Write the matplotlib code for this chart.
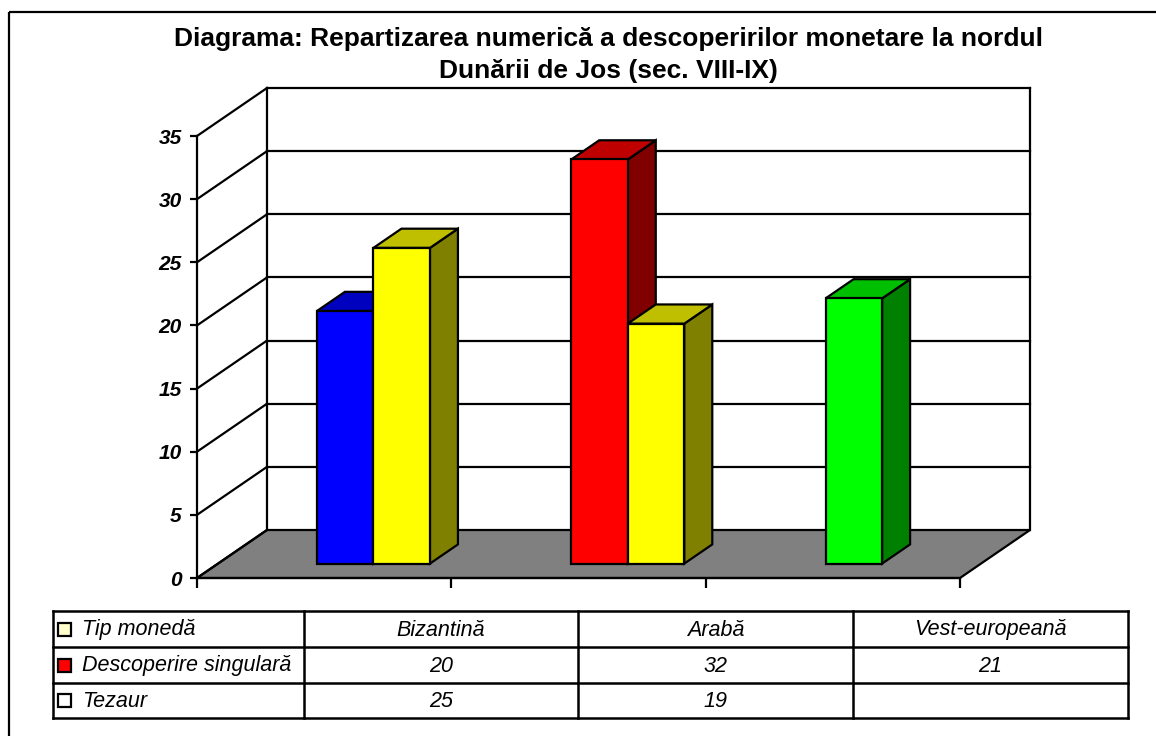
import matplotlib
matplotlib.use("Agg")
import matplotlib.pyplot as plt
from matplotlib.patches import Polygon, Rectangle

plt.rcParams["font.family"] = ["Liberation Sans", "DejaVu Sans"]

# data
categories = ["Bizantină", "Arabă", "Vest-europeană"]
series_names = ["Tip monedă", "Descoperire singulară", "Tezaur"]
singular = [20, 32, 21]
tezaur = [25, 19, None]
singular_colors = ["#0000FF", "#FF0000", "#00FF00"]
tezaur_color = "#FFFF00"
key_colors = ["#FFFFCC", "#FF0000", "#FFFFFF"]
yticks = [0, 5, 10, 15, 20, 25, 30, 35]

title = ("Diagrama: Repartizarea numerică a descoperirilor monetare la nordul\n"
         "Dunării de Jos (sec. VIII-IX)")

W, H = 1156, 736
fig = plt.figure(figsize=(W / 100, H / 100), dpi=100)

# overlay in pixel units for frame, title and table
pix = fig.add_axes([0, 0, 1, 1])
pix.set_xlim(0, W)
pix.set_ylim(H, 0)
pix.axis("off")

pix.add_patch(Rectangle((9, 12), W, H, fill=False, lw=1.6, ec="black"))
pix.text(608, 55, title, ha="center", va="center", fontsize=19,
         fontweight="bold", linespacing=1.38)

# front plane of the 3d plot
x0, x1, y0, y1 = 197, 960, 578, 136
ax = fig.add_axes([x0 / W, 1 - y0 / H, (x1 - x0) / W, (y0 - y1) / H])
ax.set_xlim(0, 3)
ax.set_ylim(0, 35)
ax.patch.set_visible(False)
for s in ["top", "right"]:
    ax.spines[s].set_visible(False)
ax.spines["left"].set_linewidth(1.6)
ax.spines["bottom"].set_linewidth(1.6)
ax.spines["left"].set_zorder(6)
ax.spines["bottom"].set_zorder(6)
ax.set_yticks(yticks)
ax.set_yticklabels([str(t) for t in yticks], fontsize=15,
                   fontweight="bold", fontstyle="italic")
ax.set_xticks([0, 1, 2, 3])
ax.set_xticklabels([])
ax.tick_params(axis="y", length=5, width=1.6, pad=6)
ax.tick_params(axis="x", length=7, width=1.6)

# depth offset in data units
dx = 70 / (x1 - x0) * 3
dy = 48 / (y0 - y1) * 35

# floor
ax.add_patch(Polygon([(0, 0), (3, 0), (3 + dx, dy), (dx, dy)], closed=True,
                     fc="#808080", ec="black", lw=1.6, clip_on=False, zorder=1))
# walls and gridlines
kw = dict(color="black", lw=1.6, clip_on=False, zorder=2)
for t in yticks:
    ax.plot([0, dx], [t, t + dy], **kw)
    if t > 0:
        ax.plot([dx, 3 + dx], [t + dy, t + dy], **kw)
ax.plot([dx, dx], [dy, 35 + dy], **kw)
ax.plot([3 + dx, 3 + dx], [dy, 35 + dy], **kw)


def shade(c, f):
    r, g, b = matplotlib.colors.to_rgb(c)
    return (r * f, g * f, b * f)


def bar3d(xl, w, v, color, d0=0.3, d1=0.7):
    bx, by = xl + d0 * dx, d0 * dy
    ddx, ddy = (d1 - d0) * dx, (d1 - d0) * dy
    side = [(bx + w, by), (bx + w + ddx, by + ddy),
            (bx + w + ddx, by + ddy + v), (bx + w, by + v)]
    top = [(bx, by + v), (bx + w, by + v),
           (bx + w + ddx, by + v + ddy), (bx + ddx, by + v + ddy)]
    front = [(bx, by), (bx + w, by), (bx + w, by + v), (bx, by + v)]
    pk = dict(closed=True, ec="black", lw=1.6, clip_on=False, zorder=4,
              joinstyle="miter")
    ax.add_patch(Polygon(side, fc=shade(color, 0.5), **pk))
    ax.add_patch(Polygon(top, fc=shade(color, 0.75), **pk))
    ax.add_patch(Polygon(front, fc=color, **pk))


n_slots = len(series_names)
bw = 1 / (n_slots + 1.5)
gap = (1 - n_slots * bw) / 2
for i in range(len(categories)):
    left = i + gap
    if singular[i] is not None:
        bar3d(left + 1 * bw, bw, singular[i], singular_colors[i])
    if tezaur[i] is not None:
        bar3d(left + 2 * bw, bw, tezaur[i], tezaur_color)

# data table
cols = [53, 304, 578, 853, 1128]
rows = [611, 647, 683, 718]
tk = dict(color="black", lw=1.8, solid_capstyle="projecting")
for c in cols:
    pix.plot([c, c], [rows[0], rows[-1]], **tk)
for r in rows:
    pix.plot([cols[0], cols[-1]], [r, r], **tk)

table_rows = [categories,
              [str(v) if v is not None else "" for v in singular],
              [str(v) if v is not None else "" for v in tezaur]]
for j, name in enumerate(series_names):
    yc = (rows[j] + rows[j + 1]) / 2
    pix.add_patch(Rectangle((58, yc - 6.5), 13, 13, fc=key_colors[j],
                            ec="black", lw=1.6))
    pix.text(82, yc + 1, name, ha="left", va="center", fontsize=15.5,
             fontstyle="italic")
    for k, txt in enumerate(table_rows[j]):
        xc = (cols[k + 1] + cols[k + 2]) / 2
        pix.text(xc, yc + 1, txt, ha="center", va="center", fontsize=15.5,
                 fontstyle="italic")

fig.savefig("out.png", dpi=100)
